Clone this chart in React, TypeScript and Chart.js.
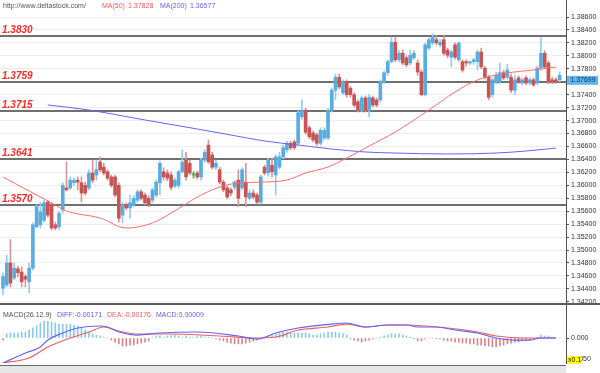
import React, { useEffect, useRef } from 'react';
import { Chart, registerables } from 'chart.js';
Chart.register(...registerables);

// ---------- price candles (index 0..149) ----------
const opens = [
  1.3441, 1.3446, 1.3480, 1.3457, 1.3471, 1.3466, 1.3459, 1.3451, 1.3472, 1.3536,
  1.3539, 1.3546, 1.3574, 1.3570, 1.3539, 1.3536, 1.3562, 1.3596, 1.3596, 1.3604,
  1.3608, 1.3604, 1.3600, 1.3596, 1.3619, 1.3616, 1.3636, 1.3628, 1.3621, 1.3613,
  1.3613, 1.3600, 1.3554, 1.3570, 1.3565, 1.3570, 1.3577, 1.3590, 1.3585, 1.3580,
  1.3577, 1.3585, 1.3604, 1.3621, 1.3619, 1.3616, 1.3599, 1.3600, 1.3621, 1.3639,
  1.3634, 1.3616, 1.3619, 1.3613, 1.3639, 1.3662, 1.3647, 1.3628, 1.3624, 1.3605,
  1.3596, 1.3593, 1.3597, 1.3608, 1.3596, 1.3605, 1.3580, 1.3588, 1.3585, 1.3574,
  1.3628, 1.3619, 1.3631, 1.3616, 1.3628, 1.3644, 1.3655, 1.3665, 1.3667, 1.3665,
  1.3706, 1.3716, 1.3689, 1.3681, 1.3678, 1.3665, 1.3673, 1.3673, 1.3716, 1.3747,
  1.3767, 1.3743, 1.3760, 1.3750, 1.3740, 1.3729, 1.3716, 1.3735, 1.3716, 1.3735,
  1.3732, 1.3732, 1.3760, 1.3774, 1.3791, 1.3821, 1.3794, 1.3804, 1.3797, 1.3789,
  1.3797, 1.3789, 1.3775, 1.3740, 1.3812, 1.3820, 1.3825, 1.3817, 1.3825, 1.3809,
  1.3798, 1.3817, 1.3794, 1.3791, 1.3791, 1.3789, 1.3791, 1.3791, 1.3806, 1.3781,
  1.3767, 1.3740, 1.3760, 1.3760, 1.3774, 1.3767, 1.3767, 1.3747, 1.3766, 1.3758,
  1.3766, 1.3758, 1.3763, 1.3758, 1.3781, 1.3804, 1.3789, 1.3763, 1.3763, 1.3763,
];
const highs = [
  1.3465, 1.3492, 1.3516, 1.3480, 1.3475, 1.3474, 1.3462, 1.3480, 1.3542, 1.3570,
  1.3574, 1.3577, 1.3577, 1.3574, 1.3543, 1.3560, 1.3604, 1.3636, 1.3613, 1.3611,
  1.3613, 1.3613, 1.3605, 1.3624, 1.3639, 1.3639, 1.3644, 1.3634, 1.3624, 1.3616,
  1.3616, 1.3604, 1.3574, 1.3573, 1.3585, 1.3584, 1.3593, 1.3593, 1.3588, 1.3584,
  1.3596, 1.3608, 1.3638, 1.3627, 1.3624, 1.3621, 1.3611, 1.3624, 1.3655, 1.3651,
  1.3639, 1.3621, 1.3622, 1.3642, 1.3655, 1.3670, 1.3651, 1.3639, 1.3628, 1.3608,
  1.3599, 1.3596, 1.3608, 1.3624, 1.3627, 1.3634, 1.3593, 1.3593, 1.3588, 1.3616,
  1.3631, 1.3642, 1.3642, 1.3647, 1.3651, 1.3662, 1.3668, 1.3668, 1.3670, 1.3715,
  1.3732, 1.3719, 1.3692, 1.3684, 1.3681, 1.3689, 1.3689, 1.3719, 1.3750, 1.3772,
  1.3772, 1.3763, 1.3763, 1.3753, 1.3743, 1.3732, 1.3738, 1.3738, 1.3740, 1.3738,
  1.3735, 1.3763, 1.3777, 1.3794, 1.3829, 1.3829, 1.3808, 1.3809, 1.3800, 1.3809,
  1.3808, 1.3794, 1.3778, 1.3820, 1.3828, 1.3834, 1.3831, 1.3825, 1.3831, 1.3812,
  1.3809, 1.3820, 1.3821, 1.3794, 1.3794, 1.3792, 1.3797, 1.3809, 1.3812, 1.3784,
  1.3770, 1.3766, 1.3775, 1.3789, 1.3778, 1.3787, 1.3772, 1.3770, 1.3769, 1.3766,
  1.3769, 1.3766, 1.3766, 1.3784, 1.3828, 1.3808, 1.3792, 1.3767, 1.3766, 1.3775,
];
const lows = [
  1.3431, 1.3443, 1.3443, 1.3454, 1.3459, 1.3443, 1.3443, 1.3434, 1.3469, 1.3534,
  1.3534, 1.3543, 1.3551, 1.3531, 1.3531, 1.3531, 1.3557, 1.3591, 1.3593, 1.3600,
  1.3593, 1.3574, 1.3585, 1.3593, 1.3604, 1.3608, 1.3621, 1.3616, 1.3608, 1.3597,
  1.3582, 1.3543, 1.3542, 1.3562, 1.3549, 1.3567, 1.3574, 1.3577, 1.3570, 1.3567,
  1.3573, 1.3582, 1.3585, 1.3608, 1.3607, 1.3593, 1.3596, 1.3596, 1.3619, 1.3608,
  1.3616, 1.3611, 1.3610, 1.3608, 1.3636, 1.3634, 1.3625, 1.3624, 1.3602, 1.3590,
  1.3579, 1.3584, 1.3593, 1.3567, 1.3593, 1.3567, 1.3577, 1.3579, 1.3571, 1.3571,
  1.3616, 1.3614, 1.3613, 1.3585, 1.3625, 1.3641, 1.3651, 1.3655, 1.3655, 1.3662,
  1.3702, 1.3679, 1.3672, 1.3667, 1.3662, 1.3662, 1.3670, 1.3670, 1.3713, 1.3732,
  1.3749, 1.3740, 1.3736, 1.3736, 1.3721, 1.3713, 1.3713, 1.3713, 1.3706, 1.3721,
  1.3721, 1.3729, 1.3757, 1.3770, 1.3789, 1.3791, 1.3791, 1.3786, 1.3783, 1.3786,
  1.3794, 1.3770, 1.3738, 1.3738, 1.3809, 1.3817, 1.3817, 1.3814, 1.3801, 1.3797,
  1.3783, 1.3795, 1.3791, 1.3775, 1.3784, 1.3786, 1.3787, 1.3778, 1.3780, 1.3764,
  1.3732, 1.3736, 1.3757, 1.3757, 1.3763, 1.3764, 1.3743, 1.3740, 1.3757, 1.3755,
  1.3755, 1.3755, 1.3753, 1.3755, 1.3778, 1.3780, 1.3757, 1.3757, 1.3757, 1.3760,
];
const closes = [
  1.3459, 1.3480, 1.3449, 1.3472, 1.3465, 1.3451, 1.3455, 1.3472, 1.3539, 1.3567,
  1.3559, 1.3573, 1.3554, 1.3534, 1.3534, 1.3557, 1.3600, 1.3593, 1.3608, 1.3608,
  1.3605, 1.3588, 1.3588, 1.3619, 1.3608, 1.3624, 1.3624, 1.3619, 1.3611, 1.3600,
  1.3585, 1.3549, 1.3570, 1.3565, 1.3573, 1.3580, 1.3590, 1.3580, 1.3573, 1.3570,
  1.3593, 1.3605, 1.3634, 1.3613, 1.3611, 1.3597, 1.3608, 1.3621, 1.3636, 1.3613,
  1.3619, 1.3616, 1.3613, 1.3639, 1.3651, 1.3636, 1.3628, 1.3634, 1.3605, 1.3593,
  1.3582, 1.3588, 1.3605, 1.3580, 1.3624, 1.3582, 1.3588, 1.3582, 1.3574, 1.3613,
  1.3619, 1.3639, 1.3621, 1.3644, 1.3644, 1.3658, 1.3665, 1.3658, 1.3658, 1.3712,
  1.3716, 1.3682, 1.3675, 1.3670, 1.3665, 1.3685, 1.3685, 1.3716, 1.3747, 1.3767,
  1.3752, 1.3760, 1.3740, 1.3740, 1.3724, 1.3716, 1.3735, 1.3716, 1.3736, 1.3724,
  1.3724, 1.3760, 1.3774, 1.3791, 1.3821, 1.3794, 1.3804, 1.3789, 1.3786, 1.3801,
  1.3804, 1.3775, 1.3740, 1.3817, 1.3825, 1.3829, 1.3820, 1.3821, 1.3804, 1.3801,
  1.3806, 1.3798, 1.3820, 1.3778, 1.3789, 1.3791, 1.3794, 1.3806, 1.3783, 1.3767,
  1.3736, 1.3763, 1.3770, 1.3774, 1.3766, 1.3778, 1.3747, 1.3763, 1.3760, 1.3763,
  1.3758, 1.3763, 1.3755, 1.3781, 1.3804, 1.3783, 1.3760, 1.3760, 1.3760, 1.3770,
];

// ---------- moving averages (read at candle indices) ----------
const ma50Idx = [0, 7, 13, 17, 26, 33, 40, 45, 49, 52, 58, 63, 70, 76, 81, 87, 92, 98, 105, 114, 121, 127, 135, 142, 148];
const ma50Val = [1.36128, 1.35912, 1.35727, 1.35603, 1.35495, 1.35340, 1.35418, 1.35572, 1.35711, 1.35819, 1.35974, 1.36036, 1.36051, 1.36082, 1.36190, 1.36283, 1.36422, 1.36607, 1.36824, 1.37163, 1.37442, 1.37627, 1.37735, 1.37782, 1.37828];
const ma200Idx = [12, 23, 35, 52, 61, 70, 79, 88, 97, 105, 119, 132, 140, 148];
const ma200Val = [1.37241, 1.37164, 1.37040, 1.36870, 1.36777, 1.36685, 1.36623, 1.36561, 1.36515, 1.36499, 1.36484, 1.36499, 1.36530, 1.36576];

// ---------- support / resistance levels and axis ----------
const levels = [1.3830, 1.3759, 1.3715, 1.3641, 1.3570];
const priceTicks = [
  1.342, 1.344, 1.346, 1.348, 1.350, 1.352, 1.354, 1.356, 1.358, 1.360, 1.362, 1.364,
  1.366, 1.368, 1.370, 1.372, 1.374, 1.376, 1.378, 1.380, 1.382, 1.384, 1.386,
];
const lastPrice = 1.37699;
const ma50Last = '1.37828';
const ma200Last = '1.36577';

// ---------- MACD panel (display units) ----------
const macdHist = [
  -0.005,
  0.010, 0.012, 0.012, 0.012, 0.014,
  0.014, 0.019, 0.024,
  0.029, 0.036, 0.040, 0.040,
  0.038, 0.036, 0.033, 0.033,
  0.033, 0.033, 0.031, 0.029, 0.024,
  0.019, 0.014, 0.010, 0.007,
  0.005, 0.002, 0,
  -0.005, -0.010, -0.014, -0.019, -0.019, -0.017, -0.017, -0.014, -0.012, -0.010, -0.007,
  0.002, 0.005, 0.005, 0.002, 0.005, 0.005, 0.007, 0.005, 0.002, 0.005, 0.002, 0.002, 0.005, 0.005, 0.002, 0.002, 0,
  -0.002, -0.005, -0.007, -0.010, -0.012, -0.014, -0.014, -0.014, -0.012, -0.010, -0.007, -0.005, -0.002,
  0.002, 0.005, 0.007, 0.010, 0.012, 0.014, 0.014, 0.014, 0.012, 0.012,
  0.012, 0.012, 0.010, 0.007, 0.007, 0.010, 0.012, 0.014, 0.014, 0.014, 0.012, 0.010, 0.007,
  -0.002, -0.005, -0.007, -0.010, -0.007, -0.005,
  -0.002, 0, 0.002, 0.005,
  0.007, 0.010, 0.010, 0.010, 0.007, 0.005,
  0.002, -0.002, -0.007, -0.007, -0.002, 0,
  0, -0.002, -0.002,
  -0.005, -0.007, -0.007, -0.010, -0.010, -0.012, -0.012, -0.014, -0.014, -0.017, -0.017, -0.019, -0.019,
  -0.021, -0.021, -0.019, -0.017, -0.014,
  -0.012, -0.010, -0.010, -0.007, -0.007,
  -0.005, -0.002, 0.002,
  0.007, 0.005, 0.005,
  0.002, 0, 0,
];
const diffIdx = [0, 6, 10, 12, 16, 20, 26, 28, 31, 36, 42, 52, 63, 68, 73, 79, 88, 92, 97, 103, 108, 111, 116, 121, 127, 132, 137, 141, 144, 148];
const diffVal = [-0.0595, -0.0357, -0.0214, -0.0048, 0.0119, 0.0238, 0.0286, 0.0262, 0.0143, 0.0071, 0.0119, 0.0143, 0.0048, -0.0024, 0.0119, 0.0238, 0.0333, 0.0357, 0.0262, 0.0310, 0.0310, 0.0262, 0.0262, 0.0190, 0.0119, 0, -0.0048, -0.0048, 0, 0];
const deaIdx = [0, 7, 12, 18, 23, 27, 31, 36, 44, 58, 67, 73, 79, 87, 92, 97, 103, 108, 113, 119, 127, 132, 140, 148];
const deaVal = [-0.0595, -0.0476, -0.0214, 0, 0.0143, 0.0262, 0.0167, 0.0095, 0.0095, 0.0048, 0, 0.0024, 0.0190, 0.0262, 0.0333, 0.0262, 0.0310, 0.0310, 0.0286, 0.0238, 0.0143, 0.0048, 0, 0];
const macdTicks = [-0.05, 0];

const FONT = 'Liberation Sans, Arial, sans-serif';
const BULL = 'rgb(88,172,224)';
const BEAR = 'rgb(200,84,84)';
const DOJI = 'rgb(80,170,80)';
const BULL_W = 'rgb(150,203,236)';
const BEAR_W = 'rgb(214,150,150)';

const candleColor = (i: number, wick: boolean) => {
  if (closes[i] > opens[i]) return wick ? BULL_W : BULL;
  if (closes[i] < opens[i]) return wick ? BEAR_W : BEAR;
  return DOJI;
};

const X_MIN = -0.8;
const X_MAX = 150.7;

const noPad = (s: any) => {
  s.width = 34;
  s.paddingTop = 0;
  s.paddingBottom = 0;
};

export default function App() {
  const mainRef = useRef<HTMLCanvasElement>(null);
  const macdRef = useRef<HTMLCanvasElement>(null);

  useEffect(() => {
    const idx = opens.map((_, i) => i);

    const mainDeco = {
      id: 'mainDeco',
      beforeDatasetsDraw(chart: any) {
        const { ctx, chartArea: a, scales } = chart;
        ctx.save();
        levels.forEach((l) => {
          const py = Math.round(scales.y.getPixelForValue(l));
          ctx.strokeStyle = '#707070';
          ctx.lineWidth = 2;
          ctx.beginPath();
          ctx.moveTo(a.left, py);
          ctx.lineTo(a.right, py);
          ctx.stroke();
        });
        ctx.restore();
      },
      afterDraw(chart: any) {
        const { ctx, scales } = chart;
        ctx.save();
        ctx.font = `italic bold 10px ${FONT}`;
        ctx.fillStyle = '#ff2a2a';
        ctx.textAlign = 'left';
        ctx.textBaseline = 'alphabetic';
        levels.forEach((l) => {
          const py = Math.round(scales.y.getPixelForValue(l));
          ctx.fillText(l.toFixed(4), 2, py - 3);
        });
        ctx.font = `7px ${FONT}`;
        ctx.textBaseline = 'middle';
        const parts: [string, string, number][] = [
          ['http://www.deltastock.com/', '#555', 3],
          ['MA(50)', '#f05a5a', 102],
          [ma50Last, '#f05a5a', 128],
          ['MA(200)', '#6464f0', 160],
          [ma200Last, '#6464f0', 190],
        ];
        parts.forEach(([t, c, x]) => {
          ctx.fillStyle = c;
          ctx.fillText(t, x, 6);
        });
        const py = scales.y.getPixelForValue(lastPrice);
        const bx = scales.y.left + 1;
        ctx.fillStyle = '#62b6ea';
        ctx.fillRect(bx, py + 0.5, 31, 9);
        ctx.fillStyle = '#10305a';
        ctx.textAlign = 'center';
        ctx.fillText(lastPrice.toFixed(5), bx + 16, py + 5);
        ctx.restore();
      },
    };

    const main = new Chart(mainRef.current as HTMLCanvasElement, {
      type: 'bar',
      data: {
        datasets: [
          {
            type: 'line',
            data: ma50Idx.map((x, k) => ({ x, y: ma50Val[k] })),
            borderColor: 'rgb(250,110,110)',
            borderWidth: 1,
            pointRadius: 0,
            cubicInterpolationMode: 'monotone',
            order: 0,
          } as any,
          {
            type: 'line',
            data: ma200Idx.map((x, k) => ({ x, y: ma200Val[k] })),
            borderColor: 'rgb(100,100,240)',
            borderWidth: 1,
            pointRadius: 0,
            cubicInterpolationMode: 'monotone',
            order: 0,
          } as any,
          {
            type: 'bar',
            data: idx.map((i) => ({ x: i, y: [opens[i], closes[i]] })),
            backgroundColor: idx.map((i) => candleColor(i, false)),
            barThickness: 3,
            minBarLength: 1,
            grouped: false,
            borderWidth: 0,
            order: 1,
          } as any,
          {
            type: 'bar',
            data: idx.map((i) => ({ x: i, y: [lows[i], highs[i]] })),
            backgroundColor: idx.map((i) => candleColor(i, true)),
            barThickness: 1,
            grouped: false,
            borderWidth: 0,
            order: 2,
          } as any,
        ],
      },
      options: {
        responsive: false,
        animation: false,
        devicePixelRatio: 1,
        layout: { padding: 0 },
        plugins: { legend: { display: false }, tooltip: { enabled: false } },
        scales: {
          x: { type: 'linear', min: X_MIN, max: X_MAX, display: false, offset: false },
          y: {
            position: 'right',
            min: 1.34182,
            max: 1.38863,
            afterBuildTicks: (s: any) => {
              s.ticks = priceTicks.map((v) => ({ value: v }));
            },
            afterFit: noPad,
            ticks: {
              font: { family: FONT, size: 7 },
              color: '#333',
              padding: 2,
              autoSkip: false,
              maxRotation: 0,
              callback: (v: any) => (Math.abs(Number(v) - lastPrice) < 0.001 ? '' : Number(v).toFixed(5)),
            },
            grid: { color: '#ededed', tickLength: 3, tickColor: '#555', drawTicks: true },
            border: { display: true, color: '#555', width: 1 },
          },
        },
      } as any,
      plugins: [mainDeco],
    });

    const macdDeco = {
      id: 'macdDeco',
      afterDraw(chart: any) {
        const { ctx, scales } = chart;
        ctx.save();
        ctx.font = `7px ${FONT}`;
        ctx.textBaseline = 'middle';
        ctx.textAlign = 'left';
        const parts: [string, string, number][] = [
          ['MACD(26.12.9)', '#555', 3],
          ['DIFF:-0.00171', '#5a5af0', 57],
          ['DEA:-0.00176', '#f05a5a', 107],
          ['MACD:0.00009', '#6a5ae0', 156],
        ];
        parts.forEach(([t, c, x]) => {
          ctx.fillStyle = c;
          ctx.fillText(t, x, 10);
        });
        const bx = scales.y.left + 1;
        ctx.fillStyle = '#ffff00';
        ctx.fillRect(bx, 51, 14, 8);
        ctx.fillStyle = '#222';
        ctx.fillText('x0.1', bx + 1, 55);
        ctx.restore();
      },
    };

    const macd = new Chart(macdRef.current as HTMLCanvasElement, {
      type: 'bar',
      data: {
        datasets: [
          {
            type: 'line',
            data: diffIdx.map((x, k) => ({ x, y: diffVal[k] })),
            borderColor: 'rgb(100,100,245)',
            borderWidth: 1.2,
            pointRadius: 0,
            cubicInterpolationMode: 'monotone',
            order: 0,
          } as any,
          {
            type: 'line',
            data: deaIdx.map((x, k) => ({ x, y: deaVal[k] })),
            borderColor: 'rgb(240,95,95)',
            borderWidth: 1.2,
            pointRadius: 0,
            cubicInterpolationMode: 'monotone',
            order: 0,
          } as any,
          {
            type: 'bar',
            data: macdHist.map((v, i) => ({ x: i, y: v })),
            backgroundColor: macdHist.map((v) => (v >= 0 ? 'rgb(140,200,234)' : 'rgb(214,136,136)')),
            barThickness: 1,
            grouped: false,
            borderWidth: 0,
            order: 1,
          } as any,
        ],
      },
      options: {
        responsive: false,
        animation: false,
        devicePixelRatio: 1,
        layout: { padding: { top: 0, bottom: 2, left: 0, right: 0 } },
        plugins: { legend: { display: false }, tooltip: { enabled: false } },
        scales: {
          x: { type: 'linear', min: X_MIN, max: X_MAX, display: false, offset: false },
          y: {
            position: 'right',
            min: -0.0595,
            max: 0.0786,
            afterBuildTicks: (s: any) => {
              s.ticks = macdTicks.map((v) => ({ value: v }));
            },
            afterFit: noPad,
            ticks: {
              font: { family: FONT, size: 7 },
              color: '#333',
              padding: 2,
              autoSkip: false,
              maxRotation: 0,
              callback: (v: any) => Number(v).toFixed(3),
            },
            grid: { drawOnChartArea: false, tickLength: 3, tickColor: '#555', drawTicks: true },
            border: { display: true, color: '#555', width: 1 },
          },
        },
      } as any,
      plugins: [macdDeco],
    });

    return () => {
      main.destroy();
      macd.destroy();
    };
  }, []);

  return (
    <div style={{ position: 'fixed', left: 0, top: 0, width: 600, height: 373, background: '#fff', overflow: 'hidden' }}>
      <canvas ref={mainRef} width={600} height={303} style={{ position: 'absolute', left: 0, top: 0, width: 600, height: 303 }} />
      <div style={{ position: 'absolute', left: 0, top: 303, width: 600, height: 2, background: '#5a5a5a' }} />
      <canvas ref={macdRef} width={600} height={60} style={{ position: 'absolute', left: 0, top: 305, width: 600, height: 60 }} />
      <div style={{ position: 'absolute', left: 0, top: 365, width: 566, height: 8, background: '#e6e6e6', borderTop: '1px solid #6a6a6a' }} />
    </div>
  );
}
